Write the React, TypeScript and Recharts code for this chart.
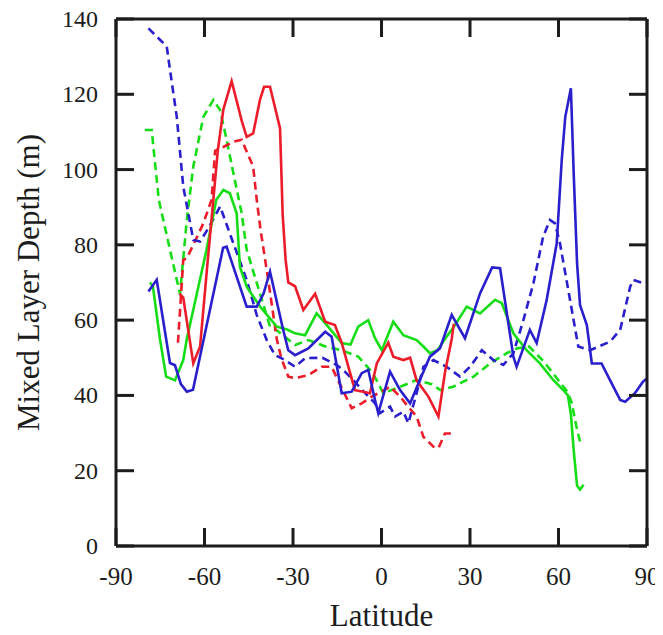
import { LineChart, Line, XAxis, YAxis } from 'recharts';

// latitude ticks and depth ticks
const latTicks = [-90, -60, -30, 0, 30, 60, 90];
const depthTicks = [0, 20, 40, 60, 80, 100, 120, 140];

// red solid
const redSolidLat = [-68.5, -67.2, -63.8, -61.5, -59, -57, -55.5, -53.6, -50.8, -47.4, -45.7, -43.5, -41.2, -39.8, -37.8, -34.4, -33.5, -32.5, -31.6, -29.3, -26.5, -22.5, -19.1, -15.8, -13.5, -11, -9, -6.2, -3.9, -1.6, 2.3, 4, 7.4, 9.7, 11.9, 15.9, 19.3, 21.5, 23.8, 24.5];
const redSolidDepth = [67, 66, 48.5, 53, 75, 92, 105, 116, 123.5, 113, 108.7, 109.6, 118.5, 122, 122, 111, 88, 76, 70, 69, 62.7, 67, 59.6, 58.7, 54, 47, 41.4, 41, 40.6, 48.5, 54, 50.3, 49.4, 50, 44, 39.7, 34.4, 46, 55, 59];

// red dashed
const redDashLat = [-69, -67.2, -66, -62.6, -60.4, -57.6, -56.4, -53.6, -50.2, -47.4, -43.5, -42.3, -41, -38.4, -35.5, -34, -31.6, -29.3, -24.8, -20.3, -16.9, -13.5, -10.1, -6.7, -3.3, 0, 2.9, 6.3, 9, 11.9, 14.2, 17.6, 19.3, 21.5, 23.8, 25];
const redDashDepth = [54, 76, 76.4, 82, 85.7, 92, 105, 106, 107.4, 107.9, 100.8, 92, 84, 70.7, 55, 50, 45, 44.6, 45.4, 47.6, 47.6, 42, 36.6, 37.9, 39.7, 41, 42.3, 39.7, 37, 34.4, 29, 26.4, 26, 29.9, 29.9, 29.5];

// green solid
const greenSolidLat = [-78.5, -77.5, -75.1, -73, -70, -67.2, -66, -62.6, -59.5, -56, -53.6, -51.4, -49.1, -48, -45.7, -41.2, -35.5, -32, -29.3, -25.9, -22, -19.1, -13.5, -10.5, -7.9, -4.5, -2.2, 0.1, 4, 7.4, 11.9, 14.2, 16.4, 19, 21.5, 24.3, 28.9, 33.4, 38.5, 40.8, 44.7, 49.2, 53.7, 58.2, 61.6, 63.2, 64.2, 65.2, 66.3, 67.3, 68.5];
const greenSolidDepth = [70, 69, 55, 45, 44, 49.4, 55, 67, 78, 92, 94.6, 93.7, 88.4, 74.2, 68.9, 63.6, 58.3, 57.5, 56.5, 56, 61.8, 59.2, 53.9, 53.5, 58.3, 60, 55.2, 52, 59.6, 56, 54.7, 53, 51.2, 52, 55, 58, 63.6, 61.8, 65.4, 64.5, 56.5, 52, 48.5, 44.1, 41.4, 40, 35, 25, 16, 15, 16.3];

// green dashed
const greenDashLat = [-80.2, -77.9, -75.5, -71.5, -68.9, -68.3, -66, -63.8, -60.4, -57, -54.7, -52.5, -50.2, -47.4, -45.7, -41.2, -37.8, -35, -29.3, -24.8, -19, -13.5, -7.9, -3, 0.6, 6.3, 11.9, 17, 20, 24.3, 31.2, 36.8, 42.4, 46, 50, 55, 58, 61, 63, 64.5, 66, 67.5];
const greenDashDepth = [110.5, 110.5, 92, 78, 69, 67, 86.6, 100.8, 114, 118.5, 115.8, 107.9, 99, 88.4, 78.7, 67.1, 58.3, 57, 53.4, 54.7, 53, 52, 50.3, 46, 40.6, 42.3, 44.1, 43, 41.4, 42.3, 45, 48.5, 51.2, 52.5, 53, 49, 46, 43, 41, 38, 32, 27];

// blue solid
const blueSolidLat = [-79, -76.2, -71.7, -70, -68, -66, -63.9, -53.7, -52.5, -45.7, -42.3, -40, -37.8, -36.1, -33.5, -31.6, -29.3, -24.8, -19.1, -16.9, -13.5, -10.1, -6.7, -4.5, -2.2, -1.1, 2.9, 6.3, 9.7, 13, 16.4, 19.8, 23.8, 28.3, 33.4, 37.5, 40.2, 44.7, 45.8, 50.3, 52.6, 56, 59.4, 61.1, 62.3, 64.2, 65.2, 66.3, 67.3, 69.6, 71.3, 74.6, 77.5, 80.9, 82.6, 85.9, 88.7, 90];
const blueSolidDepth = [67.6, 70.7, 48.6, 48, 43, 41, 41.5, 79.2, 79.5, 63.6, 63.6, 67, 72.9, 67, 58, 52, 50.7, 52.5, 56.9, 55.6, 40.6, 41, 45.9, 46.8, 38.8, 35.3, 46.3, 41.4, 37.9, 44.1, 50.3, 52.5, 61.4, 55.2, 67.1, 74, 73.8, 50.3, 47.6, 57.4, 53.9, 65.4, 80.4, 102.6, 114, 121.6, 98, 75, 64, 58.7, 48.5, 48.5, 44, 38.8, 38.3, 40.6, 43.7, 44.5];

// blue dashed
const blueDashLat = [-79, -75.1, -72.8, -71.7, -69.4, -67.2, -65.5, -63.8, -61.5, -58.7, -54.7, -51.4, -45.7, -42.3, -38.9, -36.1, -32.7, -29.3, -25.9, -20, -15, -12, -9.6, -6, -2.2, -0.5, 2.9, 4.6, 7.4, 9.1, 11.9, 14.2, 17.6, 22.1, 26.6, 30, 34, 37.9, 41.3, 44.7, 48.1, 51.5, 54.8, 57.1, 58.8, 60.5, 63.9, 66.7, 70.7, 77.5, 80.9, 84.3, 85.4, 88.8, 90];
const blueDashDepth = [137.5, 134.5, 132.7, 126.5, 114, 95.5, 88.4, 81.3, 80.9, 84.4, 90.2, 83, 70.7, 61.4, 54.7, 50.7, 49.4, 47.6, 49.9, 50, 48, 46, 44.1, 41, 37.9, 35.3, 37, 34.4, 35.7, 32.6, 40.6, 47.6, 49.4, 47.6, 45, 47.6, 52, 49.4, 48.1, 51.2, 60, 69.8, 82.2, 86.6, 85.7, 80.4, 65.4, 53, 52, 54.3, 57.4, 68.9, 70.7, 69.8, 70];

const RED = '#ec1c2a';
const GREEN = '#16de16';
const BLUE = '#2a1fcc';
const INK = '#1c1c1c';
const FONT = '"Liberation Serif", "DejaVu Serif", serif';
const TICK_LEN = 18;

const toPoints = (lat: number[], depth: number[]) =>
    lat.map((l, i) => ({ lat: l, depth: depth[i] }));

const series = [
    { name: 'greenDash', data: toPoints(greenDashLat, greenDashDepth), color: GREEN, dash: '8 5' },
    { name: 'redDash', data: toPoints(redDashLat, redDashDepth), color: RED, dash: '8 5' },
    { name: 'blueDash', data: toPoints(blueDashLat, blueDashDepth), color: BLUE, dash: '8 5' },
    { name: 'greenSolid', data: toPoints(greenSolidLat, greenSolidDepth), color: GREEN, dash: undefined },
    { name: 'redSolid', data: toPoints(redSolidLat, redSolidDepth), color: RED, dash: undefined },
    { name: 'blueSolid', data: toPoints(blueSolidLat, blueSolidDepth), color: BLUE, dash: undefined },
];

const BottomTick = (props: any) => {
    const { x, y, payload } = props;
    return (
        <g>
            <line x1={x} y1={y} x2={x} y2={y - TICK_LEN} stroke={INK} strokeWidth={3} />
            <text x={x} y={y + 39} textAnchor="middle" fontFamily={FONT} fontSize={25} fill={INK}>
                {payload.value}
            </text>
        </g>
    );
};

const TopTick = (props: any) => {
    const { x, y } = props;
    return <line x1={x} y1={y} x2={x} y2={y + TICK_LEN} stroke={INK} strokeWidth={3} />;
};

const LeftTick = (props: any) => {
    const { x, y, payload } = props;
    return (
        <g>
            <line x1={x} y1={y} x2={x + TICK_LEN} y2={y} stroke={INK} strokeWidth={3} />
            <text x={x - 18} y={y + 8} textAnchor="end" fontFamily={FONT} fontSize={24} fill={INK}>
                {payload.value}
            </text>
        </g>
    );
};

const RightTick = (props: any) => {
    const { x, y } = props;
    return <line x1={x} y1={y} x2={x - TICK_LEN} y2={y} stroke={INK} strokeWidth={3} />;
};

const axisLine = { stroke: INK, strokeWidth: 3 };

export default function App() {
    // pull the chart over the default body margin so it fills the page
    return (
        <div style={{ width: 663, height: 635, margin: '-8px 0 0 -8px', background: '#fff' }}>
            <LineChart width={663} height={635} margin={{ top: 18, right: 15, left: 8, bottom: 0 }}>
                <XAxis
                    type="number"
                    dataKey="lat"
                    domain={[-90, 90]}
                    ticks={latTicks}
                    interval={0}
                    height={89}
                    tickSize={0}
                    tickMargin={0}
                    axisLine={axisLine}
                    tick={<BottomTick />}
                    allowDataOverflow
                    label={{
                        content: (p: any) => {
                            const vb = p.viewBox;
                            return (
                                <text x={vb.x + vb.width / 2} y={vb.y + 80} textAnchor="middle" fontFamily={FONT} fontSize={31} fill={INK}>
                                    Latitude
                                </text>
                            );
                        },
                    }}
                />
                <XAxis
                    xAxisId="top"
                    orientation="top"
                    type="number"
                    dataKey="lat"
                    domain={[-90, 90]}
                    ticks={latTicks}
                    interval={0}
                    height={1}
                    tickSize={0}
                    tickMargin={0}
                    axisLine={axisLine}
                    tick={<TopTick />}
                    allowDataOverflow
                />
                <YAxis
                    type="number"
                    domain={[0, 140]}
                    ticks={depthTicks}
                    interval={0}
                    width={108}
                    tickSize={0}
                    tickMargin={0}
                    axisLine={axisLine}
                    tick={<LeftTick />}
                    allowDataOverflow
                    label={{
                        content: (p: any) => {
                            const vb = p.viewBox;
                            const cx = vb.x + 24;
                            const cy = vb.y + vb.height / 2;
                            return (
                                <text x={cx} y={cy} transform={`rotate(-90 ${cx} ${cy})`} textAnchor="middle" dominantBaseline="middle" fontFamily={FONT} fontSize={31} fill={INK}>
                                    Mixed Layer Depth (m)
                                </text>
                            );
                        },
                    }}
                />
                <YAxis
                    yAxisId="right"
                    orientation="right"
                    type="number"
                    domain={[0, 140]}
                    ticks={depthTicks}
                    interval={0}
                    width={1}
                    tickSize={0}
                    tickMargin={0}
                    axisLine={axisLine}
                    tick={<RightTick />}
                    allowDataOverflow
                />
                {/* invisible series so the mirrored frame axes have something bound to them */}
                <Line
                    xAxisId="top"
                    yAxisId="right"
                    data={series[5].data}
                    dataKey="depth"
                    stroke="none"
                    dot={false}
                    activeDot={false}
                    legendType="none"
                    isAnimationActive={false}
                />
                {series.map((s) => (
                    <Line
                        key={s.name}
                        data={s.data}
                        dataKey="depth"
                        type="linear"
                        stroke={s.color}
                        strokeWidth={2.6}
                        strokeDasharray={s.dash}
                        dot={false}
                        activeDot={false}
                        isAnimationActive={false}
                    />
                ))}
            </LineChart>
        </div>
    );
}
